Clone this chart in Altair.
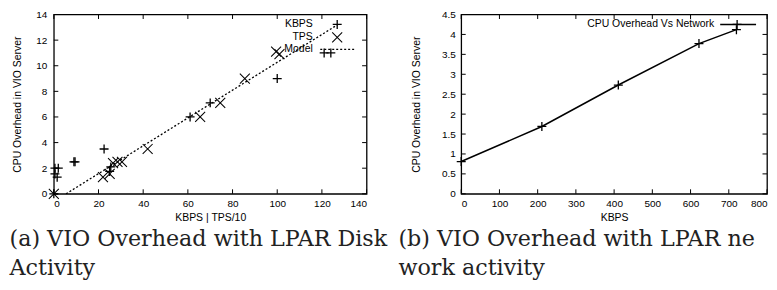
import altair as alt
import pandas as pd

# ---------------- data ----------------
kbps_x = [0, 0.5, 2, 0.5, 1.5, 9, 9.5, 22.5, 25.5, 25, 61, 70, 100, 121, 124]
kbps_y = [0, 2.0, 2.0, 1.55, 1.3, 2.5, 2.5, 3.5, 2.1, 1.75, 6.0, 7.1, 9.0, 11.0, 11.0]

tps_x = [0, 22, 25, 26.5, 28.5, 30.5, 42, 65.5, 74.5, 85.5, 99.5, 101]
tps_y = [0, 1.3, 1.55, 2.4, 2.5, 2.5, 3.5, 6.0, 7.1, 9.0, 11.1, 10.9]

model_x = [5.5, 127]
model_y = [0, 13.2]

net_x = [0, 211, 411, 622, 720]
net_y = [0.81, 1.69, 2.73, 3.77, 4.12]

left_xticks = [0, 20, 40, 60, 80, 100, 120, 140]
left_yticks = [0, 2, 4, 6, 8, 10, 12, 14]
right_xticks = [0, 100, 200, 300, 400, 500, 600, 700, 800]
right_yticks = [0, 0.5, 1, 1.5, 2, 2.5, 3, 3.5, 4, 4.5]

left_legend = ["KBPS", "TPS", "Model"]
right_legend = ["CPU Overhead Vs Network"]

caption_a = ["(a) VIO Overhead with LPAR Disk", "Activity"]
caption_b = ["(b) VIO Overhead with LPAR net-", "work activity"]

# ---------------- styling ----------------
SANS = "Liberation Sans"
SERIF = "DejaVu Serif"
PLUS = "M-1,0L1,0M0,-1L0,1"
XSH = "M-1,-1L1,1M-1,1L1,-1"
LW = 1.3
TICK = 4.5
CAP_SIZE = 22.3
CAP_LH = 30
CAP_Y = 232


def inward_ticks(xticks, yticks, xs, ys, xa, ya, W, H):
    dx = pd.DataFrame({"v": xticks})
    dy = pd.DataFrame({"v": yticks})
    base = dict(color="black", strokeWidth=1)
    return [
        alt.Chart(dx).mark_rule(**base).encode(
            x=alt.X("v:Q", scale=xs, axis=xa), y=alt.value(H), y2=alt.value(H - TICK)),
        alt.Chart(dx).mark_rule(**base).encode(
            x=alt.X("v:Q", scale=xs, axis=xa), y=alt.value(0), y2=alt.value(TICK)),
        alt.Chart(dy).mark_rule(**base).encode(
            y=alt.Y("v:Q", scale=ys, axis=ya), x=alt.value(0), x2=alt.value(TICK)),
        alt.Chart(dy).mark_rule(**base).encode(
            y=alt.Y("v:Q", scale=ys, axis=ya), x=alt.value(W), x2=alt.value(W - TICK)),
    ]


# ---------------- left panel ----------------
W1, H1 = 314, 180
xs1 = alt.Scale(domain=[0, 140], nice=False, zero=False)
ys1 = alt.Scale(domain=[0, 14], nice=False, zero=False)

kb = pd.DataFrame({"x": kbps_x, "y": kbps_y})
tp = pd.DataFrame({"x": tps_x, "y": tps_y})
md = pd.DataFrame({"x": model_x, "y": model_y})

x_axis1 = alt.Axis(values=left_xticks, title="KBPS | TPS/10", labelPadding=5, titlePadding=4)
y_axis1 = alt.Axis(values=left_yticks, title="CPU Overhead in VIO Server",
                   labelPadding=7, titlePadding=13)

model_line = alt.Chart(md).mark_line(color="black", strokeWidth=LW, strokeDash=[2, 2]).encode(
    x=alt.X("x:Q", scale=xs1, axis=x_axis1), y=alt.Y("y:Q", scale=ys1, axis=y_axis1))
kb_pts = alt.Chart(kb).mark_point(shape=PLUS, size=81, filled=False, color="black",
                                  strokeWidth=LW, opacity=1).encode(
    x=alt.X("x:Q", scale=xs1, axis=x_axis1), y=alt.Y("y:Q", scale=ys1, axis=y_axis1))
tp_pts = alt.Chart(tp).mark_point(shape=XSH, size=100, filled=False, color="black",
                                  strokeWidth=LW * 0.8, opacity=1).encode(
    x=alt.X("x:Q", scale=xs1, axis=x_axis1), y=alt.Y("y:Q", scale=ys1, axis=y_axis1))

leg1 = pd.DataFrame({"label": left_legend, "row": [0, 1, 2]})
leg_rows_y = [10, 23, 35]
leg_text1 = [
    alt.Chart(leg1[leg1.row == i]).mark_text(align="right", baseline="middle", font=SANS,
                                             fontSize=10.5, color="black").encode(
        text="label:N", x=alt.value(260), y=alt.value(leg_rows_y[i]))
    for i in range(3)
]
leg_kb = alt.Chart(leg1[leg1.row == 0]).mark_point(shape=PLUS, size=81, filled=False, color="black",
                                                   strokeWidth=LW, opacity=1).encode(
    x=alt.value(284.5), y=alt.value(leg_rows_y[0]))
leg_tp = alt.Chart(leg1[leg1.row == 1]).mark_point(shape=XSH, size=100, filled=False, color="black",
                                                   strokeWidth=LW * 0.8, opacity=1).encode(
    x=alt.value(284.5), y=alt.value(leg_rows_y[1]))
leg_md = alt.Chart(leg1[leg1.row == 2]).mark_rule(color="black", strokeWidth=LW, strokeDash=[2, 2]).encode(
    x=alt.value(267.5), x2=alt.value(302.5), y=alt.value(leg_rows_y[2]))

cap_a = alt.Chart(pd.DataFrame({"c": [caption_a]})).mark_text(
    align="left", baseline="alphabetic", font=SERIF, fontSize=CAP_SIZE, lineHeight=CAP_LH,
    color="#222").encode(text="c", x=alt.value(-44.5), y=alt.value(CAP_Y))

left = alt.layer(
    model_line, kb_pts, tp_pts,
    *inward_ticks(left_xticks, left_yticks, xs1, ys1, x_axis1, y_axis1, W1, H1),
    *leg_text1, leg_kb, leg_tp, leg_md, cap_a,
).properties(width=W1, height=H1)

# ---------------- right panel ----------------
W2, H2 = 307, 180
xs2 = alt.Scale(domain=[0, 800], nice=False, zero=False)
ys2 = alt.Scale(domain=[0, 4.5], nice=False, zero=False)
nt = pd.DataFrame({"x": net_x, "y": net_y})

x_axis2 = alt.Axis(values=right_xticks, title="KBPS", labelPadding=5, titlePadding=4,
                   labelFlush=True, labelFlushOffset=0)
y_axis2 = alt.Axis(values=right_yticks, title="CPU Overhead in VIO Server",
                   labelPadding=6, titlePadding=20, format=".1~f")

net_line = alt.Chart(nt).mark_line(color="black", strokeWidth=1.5).encode(
    x=alt.X("x:Q", scale=xs2, axis=x_axis2), y=alt.Y("y:Q", scale=ys2, axis=y_axis2))
net_pts = alt.Chart(nt).mark_point(shape=PLUS, size=81, filled=False, color="black",
                                   strokeWidth=LW, opacity=1).encode(
    x=alt.X("x:Q", scale=xs2, axis=x_axis2), y=alt.Y("y:Q", scale=ys2, axis=y_axis2))

leg2 = pd.DataFrame({"label": right_legend})
leg_text2 = alt.Chart(leg2).mark_text(align="right", baseline="middle", font=SANS,
                                      fontSize=10.5, color="black").encode(
    text="label:N", x=alt.value(254), y=alt.value(10))
leg_line2 = alt.Chart(leg2).mark_rule(color="black", strokeWidth=1.5).encode(
    x=alt.value(260), x2=alt.value(296), y=alt.value(10))
leg_pt2 = alt.Chart(leg2).mark_point(shape=PLUS, size=81, filled=False, color="black",
                                     strokeWidth=LW, opacity=1).encode(
    x=alt.value(277), y=alt.value(10))

cap_b = alt.Chart(pd.DataFrame({"c": [caption_b]})).mark_text(
    align="left", baseline="alphabetic", font=SERIF, fontSize=CAP_SIZE, lineHeight=CAP_LH,
    color="#222", limit=362, ellipsis="\u200b").encode(text="c", x=alt.value(-63), y=alt.value(CAP_Y))

right = alt.layer(
    net_line, net_pts,
    *inward_ticks(right_xticks, right_yticks, xs2, ys2, x_axis2, y_axis2, W2, H2),
    leg_text2, leg_line2, leg_pt2, cap_b,
).properties(width=W2, height=H2)

chart = alt.hconcat(left, right, spacing=95, bounds="flush").properties(
    padding=0
).configure_view(
    stroke="black", strokeWidth=LW
).configure_axis(
    domain=False, grid=False, ticks=False,
    labelFont=SANS, labelFontSize=10, labelColor="black",
    titleFont=SANS, titleFontSize=10.5, titleFontWeight="normal", titleColor="black",
)

chart.save("out.html", embed_options={"renderer": "svg", "actions": False})
